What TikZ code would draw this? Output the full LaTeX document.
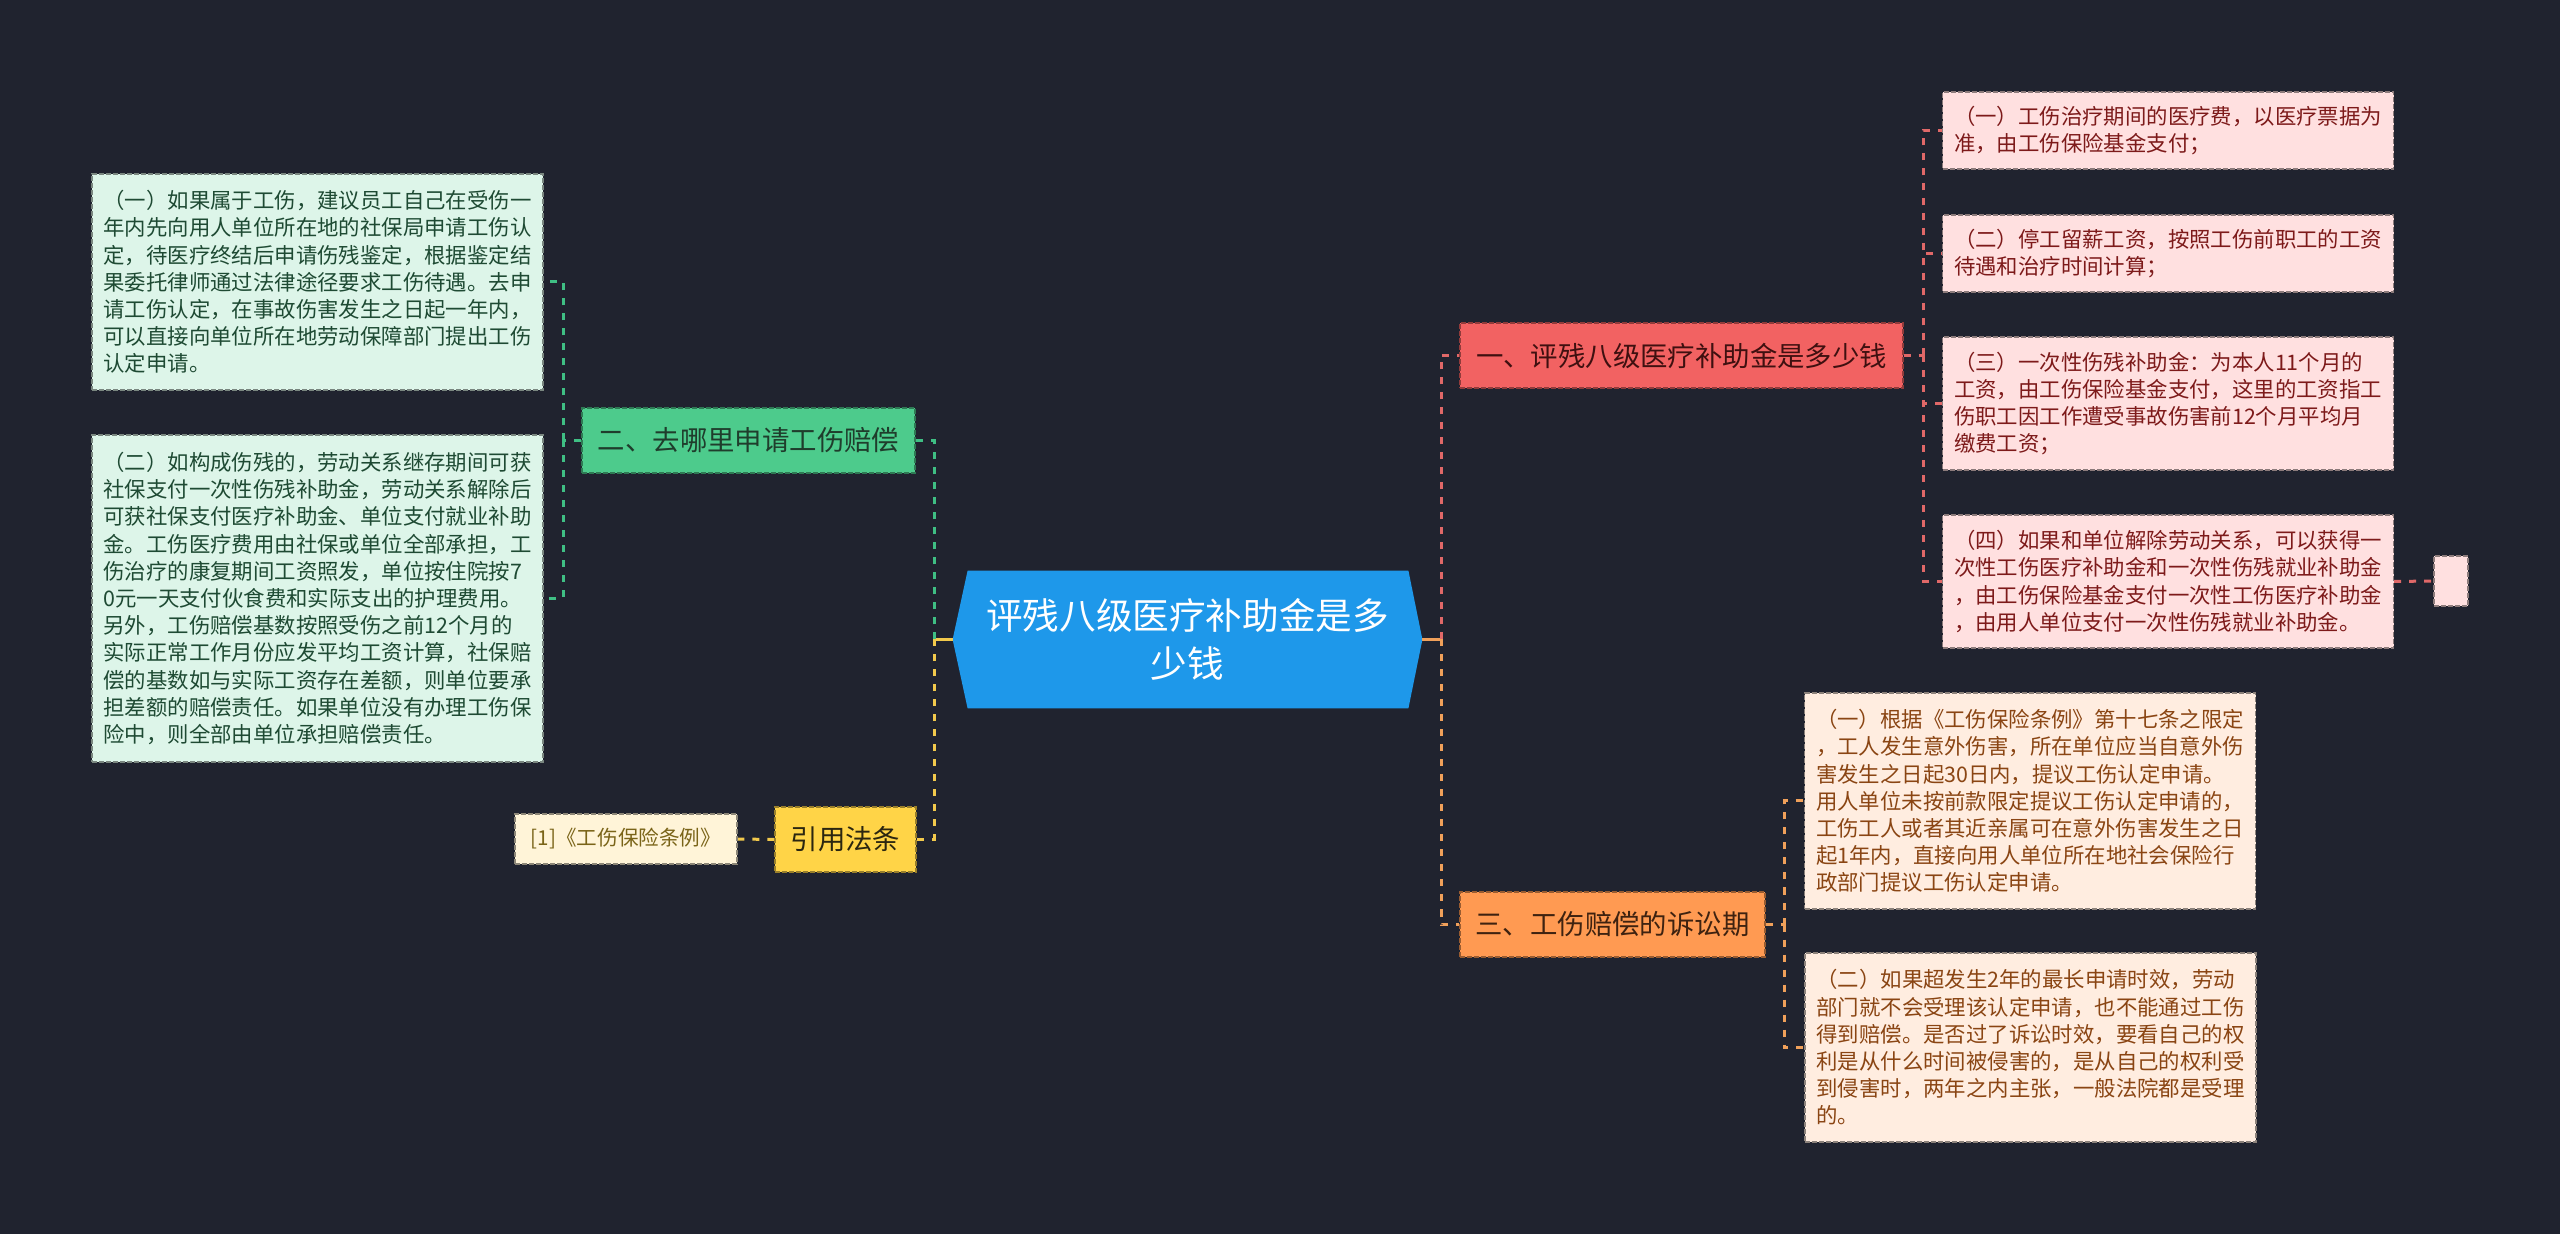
\documentclass[tikz,border=0pt]{standalone}
\usepackage{fontspec}
\setmainfont{Noto Sans CJK SC}
\usetikzlibrary{backgrounds}
\definecolor{bgc}{HTML}{20232F}
\definecolor{cblue}{HTML}{1E98EA}
\definecolor{gfill}{HTML}{4DCB8C}
\definecolor{gtext}{HTML}{1F3D2C}
\definecolor{glfill}{HTML}{DDF5E9}
\definecolor{gltext}{HTML}{1E4A33}
\definecolor{gline}{HTML}{3FBF84}
\definecolor{yfill}{HTML}{FFD447}
\definecolor{ytext}{HTML}{2B2610}
\definecolor{ylfill}{HTML}{FFF4D8}
\definecolor{yltext}{HTML}{7A6418}
\definecolor{yline}{HTML}{F2C94C}
\definecolor{rfill}{HTML}{F26262}
\definecolor{rtext}{HTML}{3F1010}
\definecolor{rlfill}{HTML}{FFE0E0}
\definecolor{rltext}{HTML}{7D1A1A}
\definecolor{rline}{HTML}{E06868}
\definecolor{ofill}{HTML}{FF9A52}
\definecolor{otext}{HTML}{3E2210}
\definecolor{olfill}{HTML}{FFEDE0}
\definecolor{oltext}{HTML}{8A4513}
\definecolor{oline}{HTML}{F0A05A}
\tikzset{
  boxbase/.style={draw, dash pattern=on 2.5pt off 1pt, line width=0.6pt, inner sep=0pt},
  branch/.style={boxbase, minimum height=32.5pt, font=\fontsize{13.7}{16}\selectfont},
  leaf/.style={boxbase, minimum width=225.5pt, text width=214pt, align=left,
    font=\fontsize{10.7}{13.6}\selectfont},
  conn/.style={line width=1.5pt, dash pattern=on 3.5pt off 4pt},
  stub/.style={line width=1.5pt},
}
\begin{document}
\begin{tikzpicture}[x=0.5pt,y=-0.5pt]
\begin{pgfonlayer}{background}
\fill[bgc] (0,0) rectangle (2560,1234);
\end{pgfonlayer}
\useasboundingbox (0,0) rectangle (2560,1234);

% central
\node[inner sep=0pt, minimum width=234.5pt, minimum height=68.5pt, align=center,
  text=white, font=\fontsize{18.3}{24}\selectfont] (c) at (1187.5,639.5)
  {评残八级医疗补助金是多\\少钱};
\begin{pgfonlayer}{background}
\fill[cblue] (c.west) -- ([xshift=7.5pt]c.north west) -- ([xshift=-7pt]c.north east)
  -- (c.east) -- ([xshift=-7pt]c.south east) -- ([xshift=7.5pt]c.south west) -- cycle;
\end{pgfonlayer}

% left branches
\node[branch, fill=gfill, draw=gfill!60!black, text=gtext, minimum width=166.5pt] (g) at (748.5,440.5) {二、去哪里申请工伤赔偿};
\node[branch, fill=yfill, draw=yfill!60!black, text=ytext, minimum width=70.5pt] (y) at (845.5,839.5) {引用法条};

\node[boxbase, fill=ylfill, draw=ylfill!55!black, text=yltext, minimum width=111pt, minimum height=25pt,
  font=\fontsize{10.3}{12}\selectfont] (yl) at (626,839) {[1]《工伤保险条例》};

\node[leaf, fill=glfill, draw=glfill!55!black, text=gltext, minimum height=108pt] (gl1) at (317.5,282)
{（一）如果属于工伤，建议员工自己在受伤一\\
年内先向用人单位所在地的社保局申请工伤认\\
定，待医疗终结后申请伤残鉴定，根据鉴定结\\
果委托律师通过法律途径要求工伤待遇。去申\\
请工伤认定，在事故伤害发生之日起一年内，\\
可以直接向单位所在地劳动保障部门提出工伤\\
认定申请。};

\node[leaf, fill=glfill, draw=glfill!55!black, text=gltext, minimum height=163.5pt] (gl2) at (317.5,598.5)
{（二）如构成伤残的，劳动关系继存期间可获\\
社保支付一次性伤残补助金，劳动关系解除后\\
可获社保支付医疗补助金、单位支付就业补助\\
金。工伤医疗费用由社保或单位全部承担，工\\
伤治疗的康复期间工资照发，单位按住院按7\\
0元一天支付伙食费和实际支出的护理费用。\\
另外，工伤赔偿基数按照受伤之前12个月的\\
实际正常工作月份应发平均工资计算，社保赔\\
偿的基数如与实际工资存在差额，则单位要承\\
担差额的赔偿责任。如果单位没有办理工伤保\\
险中，则全部由单位承担赔偿责任。};

% right branches
\node[branch, fill=rfill, draw=rfill!60!black, text=rtext, minimum width=221.5pt] (r) at (1681.5,355.5) {一、评残八级医疗补助金是多少钱};
\node[branch, fill=ofill, draw=ofill!60!black, text=otext, minimum width=152.5pt] (o) at (1612.5,924.5) {三、工伤赔偿的诉讼期};

\node[leaf, fill=rlfill, draw=rlfill!55!black, text=rltext, minimum height=38.5pt] (rl1) at (2168,130.5)
{（一）工伤治疗期间的医疗费，以医疗票据为\\
准，由工伤保险基金支付；};
\node[leaf, fill=rlfill, draw=rlfill!55!black, text=rltext, minimum height=38.5pt] (rl2) at (2168,253.5)
{（二）停工留薪工资，按照工伤前职工的工资\\
待遇和治疗时间计算；};
\node[leaf, fill=rlfill, draw=rlfill!55!black, text=rltext, minimum height=66.5pt] (rl3) at (2168,403.5)
{（三）一次性伤残补助金：为本人11个月的\\
工资，由工伤保险基金支付，这里的工资指工\\
伤职工因工作遭受事故伤害前12个月平均月\\
缴费工资；};
\node[leaf, fill=rlfill, draw=rlfill!55!black, text=rltext, minimum height=66.5pt] (rl4) at (2168,581.5)
{（四）如果和单位解除劳动关系，可以获得一\\
次性工伤医疗补助金和一次性伤残就业补助金\\
，由工伤保险基金支付一次性工伤医疗补助金\\
，由用人单位支付一次性伤残就业补助金。};
\node[boxbase, fill=rlfill, draw=rlfill!55!black, minimum width=17pt, minimum height=25pt] (rs) at (2451,581) {};

\node[leaf, fill=olfill, draw=olfill!55!black, text=oltext, minimum height=108pt] (ol1) at (2030,801)
{（一）根据《工伤保险条例》第十七条之限定\\
，工人发生意外伤害，所在单位应当自意外伤\\
害发生之日起30日内，提议工伤认定申请。\\
用人单位未按前款限定提议工伤认定申请的，\\
工伤工人或者其近亲属可在意外伤害发生之日\\
起1年内，直接向用人单位所在地社会保险行\\
政部门提议工伤认定申请。};
\node[leaf, fill=olfill, draw=olfill!55!black, text=oltext, minimum height=94.5pt] (ol2) at (2030.5,1047.5)
{（二）如果超发生2年的最长申请时效，劳动\\
部门就不会受理该认定申请，也不能通过工伤\\
得到赔偿。是否过了诉讼时效，要看自己的权\\
利是从什么时间被侵害的，是从自己的权利受\\
到侵害时，两年之内主张，一般法院都是受理\\
的。};

% junctions
\coordinate (jl) at (934,639.5);
\coordinate (jg) at (563,440.5);
\coordinate (jr) at (1441,639.5);
\coordinate (jr2) at (1923,355.5);
\coordinate (jo) at (1784,924.5);

% connectors
\begin{pgfonlayer}{background}
\draw[stub, yline] (c.west) -- (jl);
\draw[conn, gline] (jl) |- (g.east);
\draw[conn, yline] (jl) |- (y.east);
\draw[conn, gline] (g.west) -- (jg);
\draw[conn, gline] (jg) |- (gl1.east);
\draw[conn, gline] (jg) |- (gl2.east);
\draw[conn, yline] (y.west) -- (yl.east);

\draw[stub, oline] (c.east) -- (jr);
\draw[conn, rline] (jr) |- (r.west);
\draw[conn, oline] (jr) |- (o.west);
\draw[conn, rline] (r.east) -- (jr2);
\draw[conn, rline] (jr2) |- (rl1.west);
\draw[conn, rline] (jr2) |- (rl2.west);
\draw[conn, rline] (jr2) |- (rl3.west);
\draw[conn, rline] (jr2) |- (rl4.west);
\draw[conn, rline] (rl4.east) -- (rs.west);
\draw[conn, oline] (o.east) -- (jo);
\draw[conn, oline] (jo) |- (ol1.west);
\draw[conn, oline] (jo) |- (ol2.west);
\end{pgfonlayer}
\end{tikzpicture}
\end{document}
